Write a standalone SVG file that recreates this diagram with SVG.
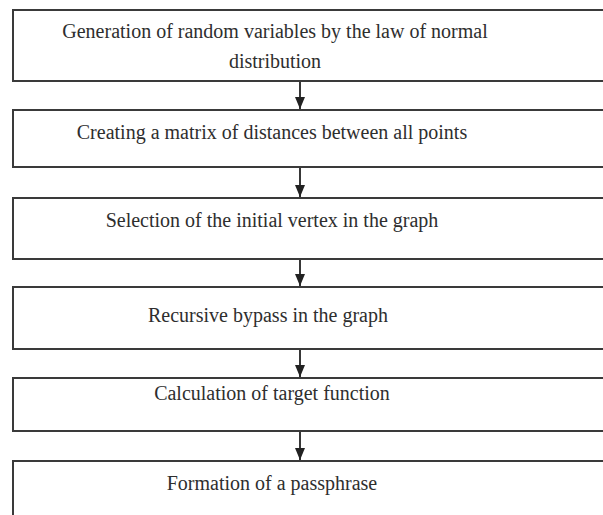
<svg xmlns="http://www.w3.org/2000/svg" width="603" height="515" viewBox="0 0 603 515">
<defs>
<style>
.box{fill:#ffffff;stroke:#3a3a3a;stroke-width:2}
.lbl{font-family:"Liberation Serif","Times New Roman",serif;font-size:20px;fill:#2e2e2e;text-anchor:middle}
.con{stroke:#222;stroke-width:1.8;fill:none}
</style>
<marker id="ah" markerWidth="12" markerHeight="10" refX="12" refY="5" orient="auto" markerUnits="userSpaceOnUse" viewBox="0 0 12 10">
<path d="M0,0 L12,5 L0,10 Z" fill="#222"/>
</marker>
</defs>
<rect width="603" height="515" fill="#ffffff"/>
<g id="n1">
<rect class="box" x="13" y="10" width="600" height="71"/>
<text class="lbl" x="275" y="38">Generation of random variables by the law of normal</text>
<text class="lbl" x="275" y="68">distribution</text>
</g>
<g id="n2">
<rect class="box" x="13" y="110" width="600" height="57"/>
<text class="lbl" x="272" y="139">Creating a matrix of distances between all points</text>
</g>
<g id="n3">
<rect class="box" x="13" y="198" width="600" height="61"/>
<text class="lbl" x="272" y="227">Selection of the initial vertex in the graph</text>
</g>
<g id="n4">
<rect class="box" x="13" y="287" width="600" height="62"/>
<text class="lbl" x="268" y="322">Recursive bypass in the graph</text>
</g>
<g id="n5">
<rect class="box" x="13" y="378" width="600" height="53"/>
<text class="lbl" x="272" y="400">Calculation of target function</text>
</g>
<g id="n6">
<rect class="box" x="13" y="461" width="600" height="70"/>
<text class="lbl" x="272" y="490">Formation of a passphrase</text>
</g>
<g id="connectors">
<line class="con" x1="300" y1="82" x2="300" y2="109" marker-end="url(#ah)"/>
<line class="con" x1="300" y1="168" x2="300" y2="197" marker-end="url(#ah)"/>
<line class="con" x1="300" y1="260" x2="300" y2="286" marker-end="url(#ah)"/>
<line class="con" x1="300" y1="350" x2="300" y2="377" marker-end="url(#ah)"/>
<line class="con" x1="300" y1="432" x2="300" y2="460" marker-end="url(#ah)"/>
</g>
</svg>
